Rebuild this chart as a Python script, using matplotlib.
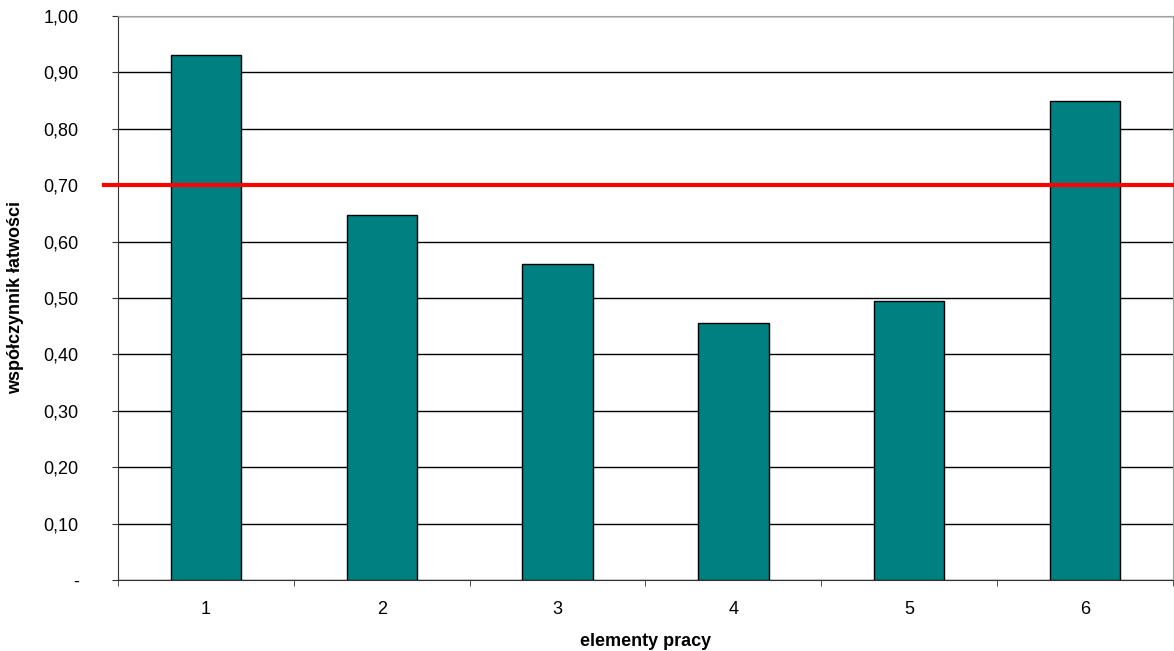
import numpy as np
import matplotlib
matplotlib.use("Agg")
import matplotlib.pyplot as plt
from matplotlib.ticker import FuncFormatter

plt.rcParams['font.family'] = ['Liberation Sans', 'DejaVu Sans']

categories = ['1', '2', '3', '4', '5', '6']
values = [0.931, 0.647, 0.560, 0.456, 0.495, 0.849]
threshold = 0.70
yticks = [0.0, 0.1, 0.2, 0.3, 0.4, 0.5, 0.6, 0.7, 0.8, 0.9, 1.0]

fig = plt.figure(figsize=(11.74, 6.51), dpi=100)
ax = fig.add_axes([118/1174, 71/651, 1055/1174, 564/651])

x = np.arange(len(categories))
ax.bar(x, values, width=0.4, color='#008080', edgecolor='black', linewidth=1, zorder=3)

# red threshold line, sticks out a bit left of the axis
ax.plot([-0.58, 5.5], [threshold, threshold], color='#ff0000', linewidth=3,
        clip_on=False, zorder=4)

ax.set_xlim(-0.5, 5.5)
ax.set_ylim(0, 1.0)
ax.set_yticks(yticks)
ax.yaxis.set_major_formatter(FuncFormatter(
    lambda v, p: '-' if abs(v) < 1e-9 else ('%.2f' % v).replace('.', ',')))
ax.yaxis.grid(True, color='black', linewidth=1, zorder=0)

ax.set_xticks(x)
ax.set_xticklabels(categories)
ax.set_xticks(np.arange(-0.5, 6.0, 1.0), minor=True)
ax.tick_params(axis='x', which='major', length=0, pad=15, labelsize=13)
ax.tick_params(axis='x', which='minor', length=4.3, direction='out', color='#333333')
ax.tick_params(axis='y', length=4.3, direction='out', labelsize=13, pad=24, color='#333333')

for s in ['top', 'right']:
    ax.spines[s].set_color('#a0a0a0')
for s in ['left', 'bottom']:
    ax.spines[s].set_color('#333333')

ax.set_xlabel('elementy pracy', fontsize=13, fontweight='bold', labelpad=11)
ax.set_ylabel('współczynnik łatwości', fontsize=13, fontweight='bold', labelpad=14)

fig.savefig('out.png', dpi=100)
